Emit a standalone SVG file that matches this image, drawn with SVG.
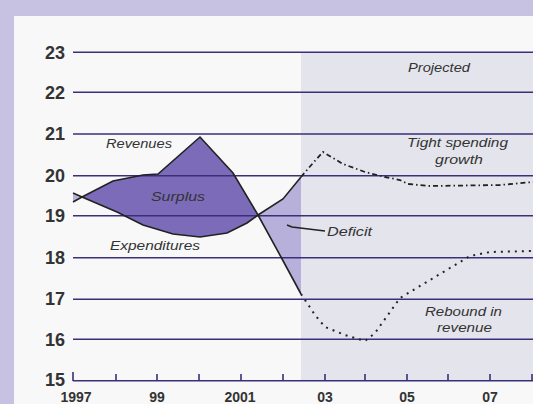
<svg xmlns="http://www.w3.org/2000/svg" width="533" height="404" viewBox="0 0 533 404">
<style>
.grid{stroke:#3b2f7a;stroke-width:1.6;fill:none}
.ylab{font-family:"Liberation Sans",Arial,sans-serif;font-size:18px;font-weight:bold;fill:#333;text-anchor:end}
.xlab{font-family:"Liberation Sans",Arial,sans-serif;font-size:14px;font-weight:bold;fill:#333;text-anchor:middle}
.lab{font-family:"Liberation Sans",Arial,sans-serif;font-size:12px;font-style:italic;fill:#333}
.curve{stroke:#222;stroke-width:1.6;fill:none}
.dash{stroke:#222;stroke-width:1.8;fill:none;stroke-dasharray:5 3 1.5 3}
.dot{stroke:#222;stroke-width:2;fill:none;stroke-dasharray:2 5}
</style>
<rect x="0" y="0" width="533" height="404" fill="#c8c2e2"/>
<rect x="14" y="16" width="519" height="388" fill="#f8f8f9"/>
<rect id="projected-area" x="301" y="52" width="232" height="328" fill="#e4e4ec"/>
<g id="surplus">
<polygon points="82,197 113,181 143,175 158,174 200,137 233,173 258,215 247,223 227,233 200,237 173,234 143,225 117,212" fill="#7b6bb9"/>
</g>
<g id="deficit">
<polygon points="258,215 283,199 301,177 301,294 281,257" fill="#b7b0db"/>
<polygon points="73,193 82,197 73,202" fill="#b7b0db"/>
</g>
<g id="gridlines">
<line class="grid" x1="73" y1="52.3" x2="533" y2="52.3"/>
<line class="grid" x1="73" y1="92.3" x2="533" y2="92.3"/>
<line class="grid" x1="73" y1="134" x2="533" y2="134"/>
<line class="grid" x1="73" y1="175.7" x2="533" y2="175.7"/>
<line class="grid" x1="73" y1="215.7" x2="533" y2="215.7"/>
<line class="grid" x1="73" y1="257.7" x2="533" y2="257.7"/>
<line class="grid" x1="73" y1="299.3" x2="533" y2="299.3"/>
<line class="grid" x1="73" y1="339.3" x2="533" y2="339.3"/>
<line class="grid" x1="73" y1="380.7" x2="533" y2="380.7"/>
<path class="grid" d="M73,372V381M116,374V381M157,374V381M199,374V381M241,374V381M283,374V381M325,374V381M365,374V381M407,374V381M448,374V381M490,374V381M532,374V381"/>
</g>
<g id="y-labels">
<text class="ylab" x="65" y="59">23</text>
<text class="ylab" x="65" y="99">22</text>
<text class="ylab" x="65" y="140">21</text>
<text class="ylab" x="65" y="182">20</text>
<text class="ylab" x="65" y="222">19</text>
<text class="ylab" x="65" y="264">18</text>
<text class="ylab" x="65" y="305">17</text>
<text class="ylab" x="65" y="346">16</text>
<text class="ylab" x="65" y="386">15</text>
</g>
<g id="x-labels">
<text class="xlab" x="76" y="402">1997</text>
<text class="xlab" x="157" y="402">99</text>
<text class="xlab" x="240" y="402">2001</text>
<text class="xlab" x="325" y="402">03</text>
<text class="xlab" x="407" y="402">05</text>
<text class="xlab" x="490" y="402">07</text>
</g>
<g id="connectors">
<polyline id="revenues-line" class="curve" points="73,202 82,197 113,181 143,175 158,174 200,137 233,173 258,215 281,257 301,294"/>
<polyline id="expenditures-line" class="curve" points="73,193 82,197 117,212 143,225 173,234 200,237 227,233 247,223 258,215 283,199 301,177"/>
<polyline id="tight-spending" class="dash" points="301,177 313,163 323,152 343,164 365,172 385,177 400,180 408,184 430,186 500,185 533,182"/>
<polyline id="rebound" class="dot" points="301,294 315,315 325,327 345,335 365,341 375,333 390,312 400,298 410,292 430,280 450,268 470,256 490,252 533,251"/>
<polyline id="deficit-leader" class="curve" stroke-width="1.2" points="287,225 292,227 325,231"/>
</g>
<g id="labels">
<text class="lab" x="106" y="148" textLength="66" lengthAdjust="spacingAndGlyphs">Revenues</text>
<text class="lab" x="151" y="201" textLength="54" lengthAdjust="spacingAndGlyphs">Surplus</text>
<text class="lab" x="110" y="250" textLength="90" lengthAdjust="spacingAndGlyphs">Expenditures</text>
<text class="lab" x="327" y="236" textLength="45" lengthAdjust="spacingAndGlyphs">Deficit</text>
<text class="lab" x="408" y="72" textLength="62" lengthAdjust="spacingAndGlyphs">Projected</text>
<text class="lab" x="407" y="147" textLength="101" lengthAdjust="spacingAndGlyphs">Tight spending</text>
<text class="lab" x="435" y="164" textLength="48" lengthAdjust="spacingAndGlyphs">growth</text>
<text class="lab" x="425" y="316" textLength="77" lengthAdjust="spacingAndGlyphs">Rebound in</text>
<text class="lab" x="437" y="332" textLength="55" lengthAdjust="spacingAndGlyphs">revenue</text>
</g>
</svg>
